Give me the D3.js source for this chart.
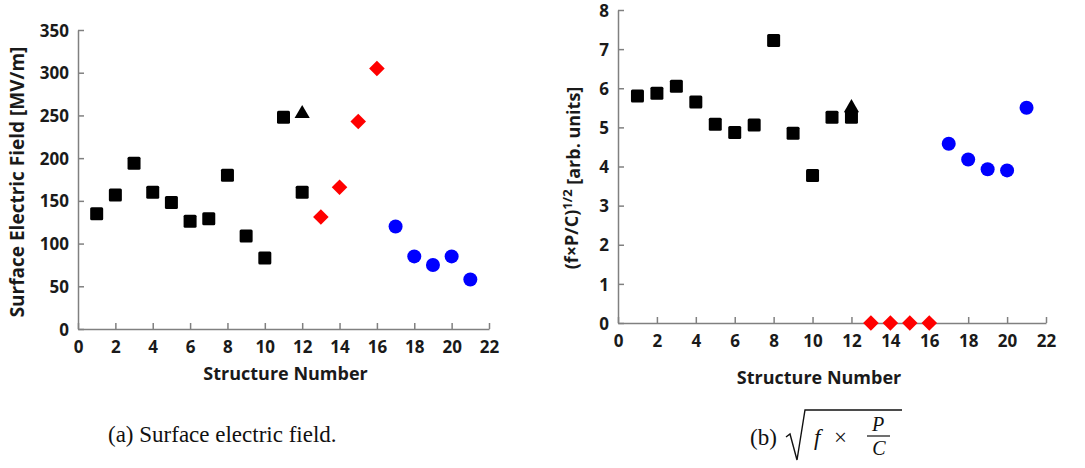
<!DOCTYPE html>
<html>
<head>
<meta charset="utf-8">
<script src="https://cdn.jsdelivr.net/npm/d3@7"></script>
<style>
  body { margin: 0; background: #fff; }
  svg { display: block; }
  .tick text { font-family: "Open Sans", sans-serif; font-weight: 700; font-size: 17px; fill: #1a1a1a; }
  .axTitle { font-family: "Open Sans", sans-serif; font-weight: 700; font-size: 18px; fill: #1a1a1a; }
  .cap { font-family: "Liberation Serif", "DejaVu Serif", serif; font-size: 23px; fill: #111; }
</style>
</head>
<body>
<div id="chart"></div>
<script>
// structure numbers
var sqX = [1, 2, 3, 4, 5, 6, 7, 8, 9, 10, 11, 12];
var triX = [12];
var diaX = [13, 14, 15, 16];
var cirX = [17, 18, 19, 20, 21];

// (a) surface electric field [MV/m]
var fieldSq  = [135, 157, 194, 160, 148, 126, 129, 180, 109, 83, 248, 160];
var fieldTri = [252];
var fieldDia = [131, 166, 243, 305];
var fieldCir = [120, 85, 75, 85, 58];

// (b) (f x P/C)^1/2 [arb. units]
var sqrtSq  = [5.8, 5.87, 6.05, 5.65, 5.08, 4.87, 5.06, 7.22, 4.85, 3.77, 5.26, 5.26];
var sqrtTri = [5.5];
var sqrtDia = [0, 0, 0, 0];
var sqrtCir = [4.58, 4.18, 3.93, 3.9, 5.5];

var xTicks = [0, 2, 4, 6, 8, 10, 12, 14, 16, 18, 20, 22];
var yTicksA = [0, 50, 100, 150, 200, 250, 300, 350];
var yTicksB = [0, 1, 2, 3, 4, 5, 6, 7, 8];

var W = 1085, H = 468;
var svg = d3.select("#chart").append("svg").attr("width", W).attr("height", H);

function drawPanel(cfg) {
  var x = d3.scaleLinear().domain([0, 22]).range([cfg.x0, cfg.x1]);
  var y = d3.scaleLinear().domain(cfg.yDomain).range([cfg.y0, cfg.y1]);
  var g = svg.append("g");

  var xa = g.append("g").attr("transform", "translate(0," + cfg.y0 + ")")
    .call(d3.axisBottom(x).tickValues(xTicks).tickSize(-6).tickPadding(9).tickSizeOuter(0));
  var ya = g.append("g").attr("transform", "translate(" + cfg.x0 + ",0)")
    .call(d3.axisLeft(y).tickValues(cfg.yTicks).tickSize(-6).tickPadding(9).tickSizeOuter(0));
  g.selectAll(".domain, .tick line").attr("stroke", "#808080").attr("stroke-width", 1.5);
  g.selectAll(".tick text").attr("dy", null);
  xa.selectAll(".tick text").attr("dy", "0.9em");
  ya.selectAll(".tick text").attr("dy", "0.36em");

  // x title
  g.append("text").attr("class", "axTitle")
    .attr("x", (cfg.x0 + cfg.x1) / 2 + cfg.xTitleDx).attr("y", cfg.xTitleY)
    .attr("text-anchor", "middle").text("Structure Number");

  // y title
  var yt = g.append("text").attr("class", "axTitle")
    .attr("transform", "translate(" + cfg.yTitleX + "," + cfg.yTitleY + ") rotate(-90)")
    .attr("text-anchor", "middle").style("font-size", cfg.yTitleSize);
  cfg.yTitle(yt);

  // squares
  g.selectAll(".sq").data(sqX.map(function(d, i) { return [d, cfg.sq[i]]; }))
    .enter().append("rect")
    .attr("x", function(d) { return x(d[0]) - 6.5; })
    .attr("y", function(d) { return y(d[1]) - 6.5; })
    .attr("width", 13).attr("height", 13).attr("rx", 1.5)
    .attr("fill", "#000");

  // triangle
  g.selectAll(".tri").data(triX.map(function(d, i) { return [d, cfg.tri[i]]; }))
    .enter().append("path")
    .attr("transform", function(d) { return "translate(" + x(d[0]) + "," + y(d[1]) + ")"; })
    .attr("d", d3.symbol().type(d3.symbolTriangle).size(100))
    .attr("fill", "#000");

  // diamonds
  g.selectAll(".dia").data(diaX.map(function(d, i) { return [d, cfg.dia[i]]; }))
    .enter().append("rect")
    .attr("transform", function(d) { return "translate(" + x(d[0]) + "," + y(d[1]) + ") rotate(45)"; })
    .attr("x", -5.5).attr("y", -5.5).attr("width", 11).attr("height", 11)
    .attr("fill", "#ff0000");

  // circles
  g.selectAll(".cir").data(cirX.map(function(d, i) { return [d, cfg.cir[i]]; }))
    .enter().append("circle")
    .attr("cx", function(d) { return x(d[0]); })
    .attr("cy", function(d) { return y(d[1]); })
    .attr("r", 7)
    .attr("fill", "#0000ff");
}

drawPanel({
  x0: 78, x1: 489, y0: 329, y1: 30, yDomain: [0, 350], yTicks: yTicksA,
  sq: fieldSq, tri: fieldTri, dia: fieldDia, cir: fieldCir,
  xTitleY: 380, xTitleDx: 2, yTitleX: 24, yTitleY: 182, yTitleSize: "19px",
  yTitle: function(t) { t.text("Surface Electric Field [MV/m]"); }
});

drawPanel({
  x0: 618, x1: 1046, y0: 323, y1: 10, yDomain: [0, 8], yTicks: yTicksB,
  sq: sqrtSq, tri: sqrtTri, dia: sqrtDia, cir: sqrtCir,
  xTitleY: 384, xTitleDx: -13, yTitleX: 578, yTitleY: 178, yTitleSize: "18px",
  yTitle: function(t) {
    t.append("tspan").text("(f\u00d7P/C)");
    t.append("tspan").attr("dy", "-0.45em").style("font-size", "13px").text("1/2");
    t.append("tspan").attr("dy", "0.45em").text(" [arb. units]");
  }
});

// captions
svg.append("text").attr("class", "cap").attr("x", 108).attr("y", 442)
  .text("(a) Surface electric field.");

var cb = svg.append("g");
cb.append("text").attr("class", "cap").attr("x", 750).attr("y", 445).text("(b)");
// radical sign
cb.append("path")
  .attr("d", "M786,437 L790,434 L797,460 L805,410 L902,410")
  .attr("fill", "none").attr("stroke", "#111").attr("stroke-width", 1.4);
cb.append("text").attr("class", "cap").attr("x", 814).attr("y", 445)
  .attr("font-style", "italic").text("f");
cb.append("text").attr("class", "cap").attr("x", 834).attr("y", 445).text("\u00d7");
cb.append("text").attr("class", "cap").attr("x", 878).attr("y", 431)
  .attr("font-style", "italic").style("font-size", "20px").attr("text-anchor", "middle").text("P");
cb.append("line").attr("x1", 867).attr("x2", 890).attr("y1", 436).attr("y2", 436)
  .attr("stroke", "#111").attr("stroke-width", 1.2);
cb.append("text").attr("class", "cap").attr("x", 879).attr("y", 455)
  .attr("font-style", "italic").style("font-size", "20px").attr("text-anchor", "middle").text("C");
</script>
</body>
</html>
